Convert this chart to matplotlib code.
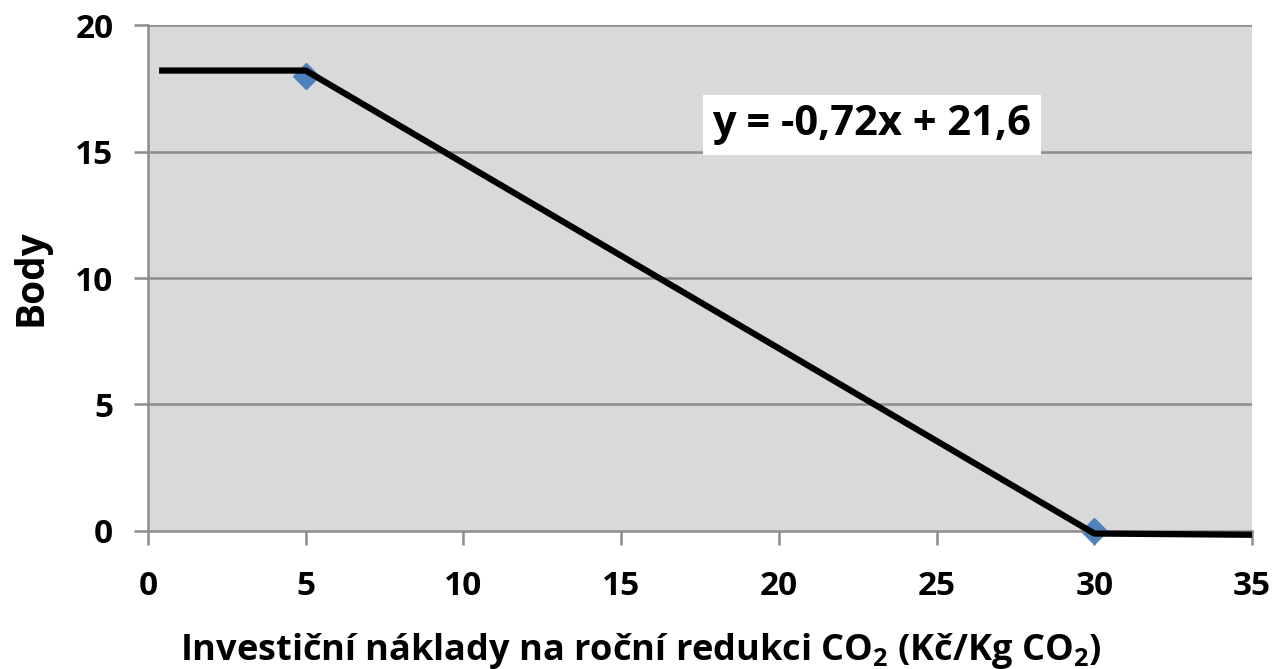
import matplotlib
matplotlib.use('Agg')
import matplotlib.pyplot as plt

# line as drawn (flat, slope, flat)
line_x = [0.35, 5, 30, 35]
line_y = [18.2, 18.2, -0.1, -0.15]

# measured points
pts_x = [5, 30]
pts_y = [18, 0]

eq_text = 'y = -0,72x + 21,6'
x_ticks = [0, 5, 10, 15, 20, 25, 30, 35]
y_ticks = [0, 5, 10, 15, 20]

plt.rcParams['font.family'] = ['Open Sans', 'DejaVu Sans']
plt.rcParams['font.weight'] = 'bold'
plt.rcParams['mathtext.fontset'] = 'custom'
plt.rcParams['mathtext.rm'] = 'Open Sans:bold'
plt.rcParams['mathtext.default'] = 'rm'

fig = plt.figure(figsize=(12.83, 6.69), dpi=100)
ax = fig.add_axes([0.1154, 0.2063, 0.8604, 0.7563])
ax.set_facecolor('#d9d9d9')

gridc = '#8c8c8c'
for yv in y_ticks[1:]:
    ax.axhline(yv, color=gridc, lw=1.8, zorder=1)

ax.plot(pts_x, pts_y, linestyle='none', marker='D', ms=13, color='#4f81bd',
        zorder=2, clip_on=False)
ax.plot(line_x, line_y, color='black', lw=4.5, solid_capstyle='butt', zorder=3,
        clip_on=False)

ax.text(22.95, 16.05, eq_text, fontsize=30, fontweight='bold', ha='center', va='center',
        bbox=dict(facecolor='white', edgecolor='none', pad=7), zorder=4)

ax.set_xlim(0, 35)
ax.set_ylim(0, 20)
ax.set_xticks(x_ticks)
ax.set_yticks(y_ticks)
ax.tick_params(axis='both', direction='out', length=10, width=1.8, color=gridc,
               labelsize=24)
ax.tick_params(axis='x', pad=18)
ax.tick_params(axis='y', pad=15)
for lab in ax.get_xticklabels() + ax.get_yticklabels():
    lab.set_fontweight('bold')

for s in ['top', 'right']:
    ax.spines[s].set_visible(False)
for s in ['left', 'bottom']:
    ax.spines[s].set_color(gridc)
    ax.spines[s].set_linewidth(1.8)

ax.set_ylabel('Body', fontsize=28, fontweight='bold', labelpad=18)
ax.set_xlabel(r'Investiční náklady na roční redukci CO$_2$ (Kč/Kg CO$_2$)',
              fontsize=26, fontweight='bold', labelpad=20)
# label sits centred on the figure, not on the plot area
ax.xaxis.label.set_x(0.4466)

fig.savefig('out.png', dpi=100)
